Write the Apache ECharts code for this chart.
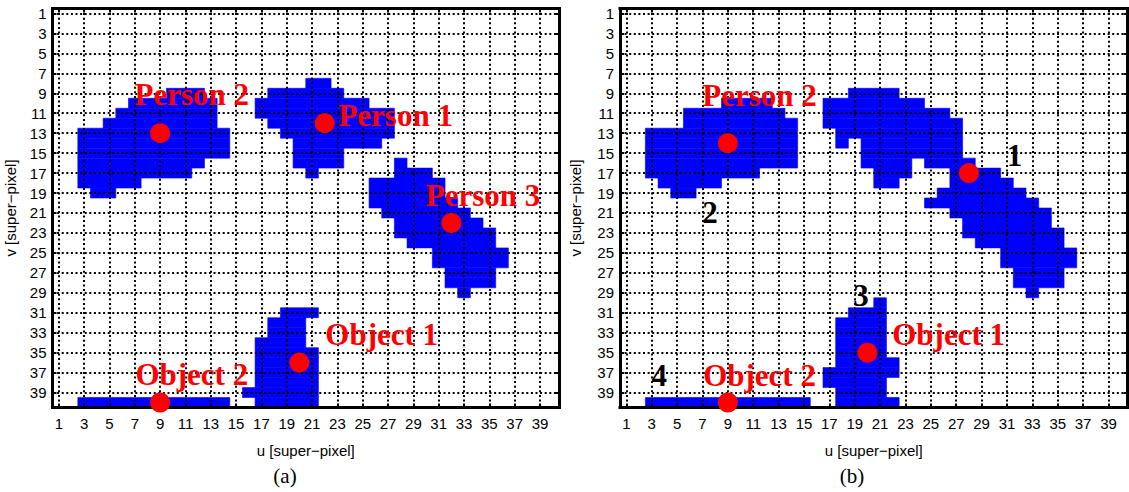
<!DOCTYPE html>
<html><head><meta charset="utf-8">
<script src="https://cdn.jsdelivr.net/npm/echarts@6/dist/echarts.min.js"></script>
<style>html,body{margin:0;padding:0;background:#fff}#c{width:1129px;height:492px}</style>
</head><body><div id="c"></div>
<script>
// tick labels (both axes)
const tickValues = [1,3,5,7,9,11,13,15,17,19,21,23,25,27,29,31,33,35,37,39];
// super-pixel runs: [v, uStart, uEnd]
const runsA = [
  [9,10,12],[10,7,13],[11,6,13],[12,5,13],[13,3,14],[14,3,14],[15,3,14],[16,3,12],[17,3,11],[18,3,7],[19,4,5],
  [8,21,22],[9,18,23],[10,17,25],[11,17,27],[12,18,27],[13,19,27],[14,20,26],[15,20,23],[16,20,23],[17,21,21],
  [16,28,28],[17,28,30],[18,26,31],[19,26,31],[20,26,32],[21,27,33],[22,28,34],[23,28,35],[24,29,35],[25,31,36],[26,31,36],[27,32,35],[28,32,35],[29,33,33],
  [31,19,21],[32,18,20],[33,18,20],[34,17,20],[35,17,21],[36,17,21],[37,17,21],[38,17,21],[39,16,21],[40,17,21],
  [40,3,14]
];
const runsB = [
  [10,9,12],[11,6,13],[12,6,14],[13,3,14],[14,3,14],[15,3,14],[16,3,14],[17,3,11],[18,4,8],[19,5,6],
  [9,19,22],[10,17,24],[11,17,26],[12,17,27],[13,18,27],[14,18,18],[14,20,27],[15,20,27],[16,20,23],[16,25,28],
  [17,21,23],[17,27,30],[18,21,22],[18,27,31],[19,26,32],[20,25,33],[21,27,34],[22,28,34],[23,28,35],[24,29,35],
  [25,31,36],[26,31,36],[27,32,35],[28,32,35],[29,33,33],
  [30,21,21],[31,19,21],[32,18,21],[33,18,21],[34,18,21],[35,18,21],[36,18,22],[37,17,22],[38,17,21],[39,18,21],[40,18,22],
  [40,3,15]
];
// centroids [u, v]
const dotsA = [[9,13],[22,12],[32,22],[20,36],[9,40]];
const dotsB = [[28,17],[9,14],[20,35],[9,40]];
// annotations
const namesA = ['Person 2','Person 1','Person 3','Object 1','Object 2'];
const namePosA = [[11.5,9.1],[27.6,11.2],[34.5,19.2],[26.5,33.2],[11.5,37.2]];
const namesB = ['Person 2','Object 1','Object 2'];
const namePosB = [[11.5,9.2],[26.4,33.2],[11.5,37.3]];
const clusterIds = ['1','2','3','4'];
const clusterPos = [[31.6,15.2],[7.6,21],[19.5,29.3],[3.6,37.3]];
const subTitles = ['(a)','(b)'];
const axisTitleU = 'u [super\u2212pixel]';
const axisTitleV = 'v [super\u2212pixel]';

const chart = echarts.init(document.getElementById('c'), null, {renderer:'svg'});
const grids = [
  {left:52.5, top:8.5, width:506.5, height:399},
  {left:620, top:8.5, width:507.5, height:399}
];
const lab = {color:'#000', fontSize:15, fontFamily:'Liberation Sans, Arial, sans-serif'};
function mkAxis(dim, g, pos, main, gap) {
  return {
    type:'value', gridIndex:g, position:pos, min:0.5, max:40.5, z:10,
    inverse: dim === 'y',
    axisLine:{show:true, onZero:false, lineStyle:{color:'#000', width:3, cap:'square'}},
    axisTick:{show:true, inside:true, length:4, customValues:tickValues, lineStyle:{color:'#000', width:2}},
    axisLabel:Object.assign({show:main, customValues:tickValues, margin: dim==='x'?8:6}, lab),
    splitLine:{show:main, lineStyle:{color:'#000', width:2, type:[2,2.6]}},
    name: main ? (dim==='x'? axisTitleU : axisTitleV) : '',
    nameLocation:'middle', nameGap:gap,
    nameTextStyle:lab
  };
}
const xAxis = [mkAxis('x',0,'bottom',true,35), mkAxis('x',0,'top',false,0),
               mkAxis('x',1,'bottom',true,35), mkAxis('x',1,'top',false,0)];
const yAxis = [mkAxis('y',0,'left',true,35), mkAxis('y',0,'right',false,0),
               mkAxis('y',1,'left',true,37), mkAxis('y',1,'right',false,0)];

function runSeries(runs, ai) {
  return {
    type:'custom', xAxisIndex:ai, yAxisIndex:ai, z:1, silent:true,
    data: runs.map(r => [r[1], r[2], r[0]]),
    encode:{x:[0,1], y:2},
    renderItem:(params, api) => {
      const a = api.coord([api.value(0)-0.5, api.value(2)-0.5]);
      const b = api.coord([api.value(1)+0.5, api.value(2)+0.5]);
      return {type:'rect', shape:{x:Math.min(a[0],b[0]), y:Math.min(a[1],b[1]),
        width:Math.abs(b[0]-a[0]), height:Math.abs(b[1]-a[1])},
        style:{fill:'#0000ff', stroke:'#0000ff', lineWidth:0.6}};
    }
  };
}
function dotSeries(dots, ai) {
  return {type:'scatter', xAxisIndex:ai, yAxisIndex:ai, z:20, clip:false, silent:true,
    symbol:'circle', symbolSize:20, itemStyle:{color:'#ff0000', opacity:1}, data:dots};
}
function textSeries(names, pos, ai, color) {
  return {type:'scatter', xAxisIndex:ai, yAxisIndex:ai, z:30, clip:false, silent:true,
    symbolSize:1, itemStyle:{color:'rgba(0,0,0,0)'},
    data: names.map((n,i) => ({name:n, value:pos[i]})),
    label:{show:true, position:'inside', formatter:'{b}', color:color, fontSize:31, opacity:1,
      fontWeight:'bold', fontFamily:'Liberation Serif, Times New Roman, serif'},
    labelLayout:{hideOverlap:false}};
}
chart.setOption({
  animation:false,
  backgroundColor:'#fff',
  grid:grids,
  xAxis:xAxis, yAxis:yAxis,
  series:[
    runSeries(runsA,0), runSeries(runsB,2),
    dotSeries(dotsA,0), dotSeries(dotsB,2),
    textSeries(namesA,namePosA,0,'#ff0000'),
    textSeries(namesB,namePosB,2,'#ff0000'),
    textSeries(clusterIds,clusterPos,2,'#000000')
  ],
  graphic:[
    {type:'text', x:285, y:476, style:{text:subTitles[0], fill:'#000', font:'21px "Liberation Serif", serif', textAlign:'center', textVerticalAlign:'middle'}},
    {type:'text', x:852, y:476, style:{text:subTitles[1], fill:'#000', font:'21px "Liberation Serif", serif', textAlign:'center', textVerticalAlign:'middle'}}
  ]
});
</script></body></html>
